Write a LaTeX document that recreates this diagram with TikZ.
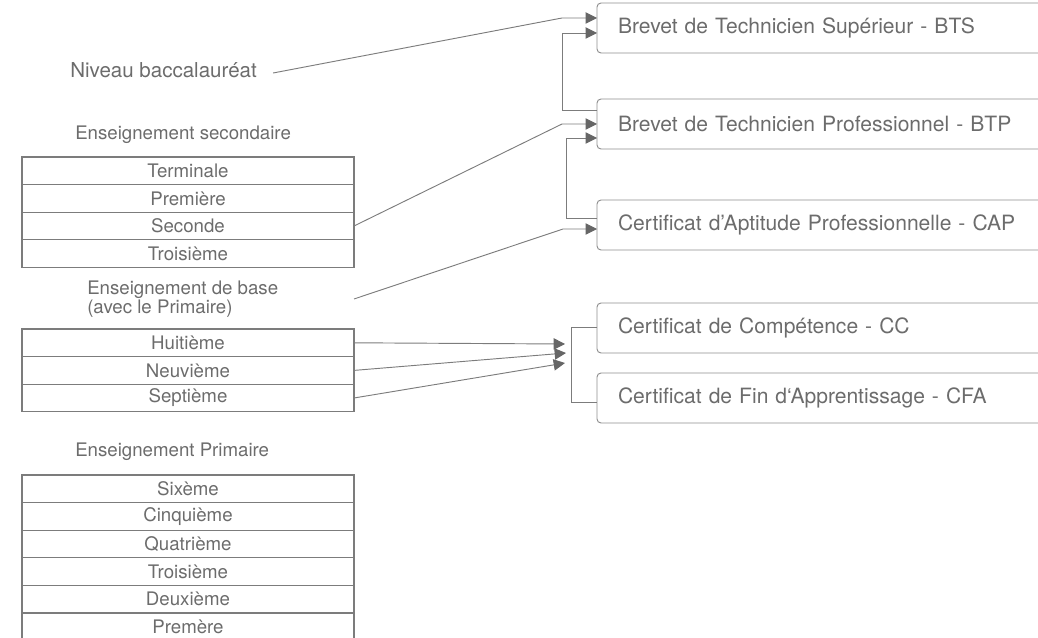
\documentclass[tikz,border=0pt]{standalone}
\usepackage{fontspec}
\setmainfont{TeX Gyre Heros}
\usetikzlibrary{positioning,arrows.meta}
\definecolor{inkgray}{HTML}{6C6C6C}
\definecolor{linegray}{HTML}{7C7C7C}
\definecolor{tipgray}{HTML}{666666}
\definecolor{boxgray}{HTML}{8E8E8E}

\begin{document}
\begin{tikzpicture}[x=0.75pt, y=-0.75pt,
    diplomeNode/.style={rectangle, rounded corners=3pt, draw=boxgray, line width=0.7pt, text=inkgray, minimum height=37.5pt, text width=330pt, align=left, inner xsep=15.75pt, inner ysep=0pt, outer sep=0pt, font=\fontsize{15.8}{18}\selectfont},
    classeNode/.style={rectangle, draw=linegray, line width=0.8pt, minimum width=249pt, minimum height=20.7pt, inner sep=0pt, outer sep=0pt, text=inkgray, font=\fontsize{14}{15}\selectfont},
    niveauNode/.style={inner sep=0pt, text=inkgray, align=left, anchor=west, font=\fontsize{14}{12.8}\selectfont},
    lienDiplome/.style={draw=linegray, line width=0.7pt},
    flecheDiplome/.style={lienDiplome, -{Triangle[length=8.5pt, width=8.5pt, color=tipgray]}}
]
    \useasboundingbox (0,0) rectangle (1038,638);
    \clip (0,0) rectangle (1038,638);

    % Diplomes (colonne de droite)
    \node[diplomeNode, anchor=west] (bts) at (597,28) {Brevet de Technicien Supérieur - BTS};
    \node[diplomeNode, below=34.5pt of bts] (btp) {Brevet de Technicien Professionnel - BTP};
    \node[diplomeNode, below=38.25pt of btp] (cap) {Certificat d’Aptitude Professionnelle - CAP};
    \node[diplomeNode, below=39.75pt of cap] (cc) {Certificat de Compétence - CC};
    \node[diplomeNode, below=15pt of cc] (cfa) {Certificat de Fin d‘Apprentissage - CFA};

    % Niveaux (colonne de gauche)
    \node[niveauNode, font=\fontsize{15.4}{18}\selectfont] (bac) at (70,70) {Niveau baccalauréat};

    \node[niveauNode] (lblsec) at (75,135) {Enseignement secondaire};
    \node[classeNode, anchor=north west] (sec1) at (22,157) {Terminale};
    \node[classeNode, below=0pt of sec1] (sec2) {Première};
    \node[classeNode, below=0pt of sec2] (sec3) {Seconde};
    \node[classeNode, below=0pt of sec3] (sec4) {Troisième};

    \node[niveauNode] (lblbase) at (87,299) {Enseignement de base\\(avec le Primaire)};
    \node[classeNode, anchor=north west] (base1) at (22,329) {Huitième};
    \node[classeNode, below=0pt of base1] (base2) {Neuvième};
    \node[classeNode, below=0pt of base2] (base3) {Septième};

    \node[niveauNode] (lblprim) at (75,452) {Enseignement Primaire};
    \node[classeNode, anchor=north west] (prim1) at (22,475) {Sixème};
    \node[classeNode, below=0pt of prim1] (prim2) {Cinquième};
    \node[classeNode, below=0pt of prim2] (prim3) {Quatrième};
    \node[classeNode, below=0pt of prim3] (prim4) {Troisième};
    \node[classeNode, below=0pt of prim4] (prim5) {Deuxième};
    \node[classeNode, below=0pt of prim5] (prim6) {Premère};

    % Points d'arrivee vers CC / CFA
    \coordinate (baseout) at ([yshift=22.5pt]base1.north east);
    \coordinate (tipA) at ([xshift=-24pt, yshift=-12pt]cc.west);
    \coordinate (tipB) at ([xshift=-23.25pt, yshift=-18.75pt]cc.west);
    \coordinate (tipC) at ([xshift=-24pt, yshift=-26.25pt]cc.west);

    % Acces vers BTS / BTP / CAP
    \draw[flecheDiplome] ([xshift=12pt, yshift=-2.25pt]bac.east) -- ([xshift=-26.25pt, yshift=7.5pt]bts.west) -- ([yshift=7.5pt]bts.west);
    \draw[flecheDiplome] (sec3.east) -- ([xshift=-26.25pt]btp.west) -- (btp.west);
    \draw[flecheDiplome] (baseout) -- ([xshift=-25.5pt, yshift=-3pt]cap.west) -- ([yshift=-3pt]cap.west);

    % Passerelles entre diplomes
    \draw[flecheDiplome] ([yshift=10.5pt]btp.west) -- ++(-26.25pt,0) |- ([yshift=-3.75pt]bts.west);
    \draw[flecheDiplome] ([yshift=5.25pt]cap.west) -- ++(-23.25pt,0) |- ([yshift=-10.5pt]btp.west);

    % Enseignement de base vers CC / CFA
    \draw[lienDiplome] ([yshift=0.75pt]cc.west) -- ++(-19.5pt,0) |- ([yshift=-3pt]cfa.west);
    \draw[flecheDiplome] (base1.east) -- (tipA);
    \draw[flecheDiplome] (base2.east) -- (tipB);
    \draw[flecheDiplome] (base3.east) -- (tipC);
\end{tikzpicture}
\end{document}
